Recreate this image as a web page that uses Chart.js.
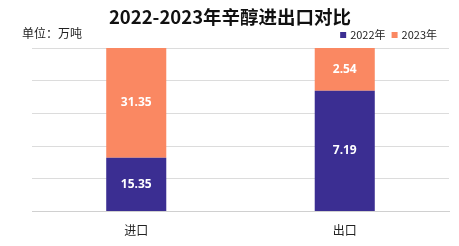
<!DOCTYPE html>
<html><head><meta charset="utf-8">
<script src="https://cdn.jsdelivr.net/npm/chart.js@4"></script>
<style>html,body{margin:0;padding:0;background:#fff}#wrap{width:459px;height:246px}</style>
</head><body><div id="wrap"><canvas id="c" width="459" height="246"></canvas></div>
<script>
const categories = ['进口', '出口'];
const seriesNames = ['2022年', '2023年'];
const values2022 = [15.35, 7.19];
const values2023 = [31.35, 2.54];
const colors = ['#3b2e92', '#fa8862'];
const titleText = '2022-2023年辛醇进出口对比';
const unitText = '单位：万吨';

const totals = categories.map((_, i) => values2022[i] + values2023[i]);
const pct = arr => arr.map((v, i) => v / totals[i] * 100);

const labelPlugin = {
  id: 'valueLabels',
  afterDatasetsDraw(chart) {
    const ctx = chart.ctx;
    ctx.save();
    ctx.font = 'bold 12px "Noto Sans", "DejaVu Sans", sans-serif';
    ctx.fillStyle = '#ffffff';
    ctx.textAlign = 'center';
    ctx.textBaseline = 'middle';
    chart.data.datasets.forEach((ds, di) => {
      const meta = chart.getDatasetMeta(di);
      meta.data.forEach((el, i) => {
        const y = (el.y + el.base) / 2;
        ctx.fillText(ds.rawValues[i].toFixed(2), el.x, y);
      });
    });
    ctx.restore();
  }
};

const headerPlugin = {
  id: 'header',
  afterDraw(chart) {
    const ctx = chart.ctx;
    ctx.save();
    ctx.textBaseline = 'middle';
    // title
    ctx.font = 'bold 18.5px "Noto Sans CJK SC", sans-serif';
    ctx.fillStyle = '#111';
    ctx.textAlign = 'center';
    ctx.fillText(titleText, 230, 17);
    // unit
    ctx.font = '12px "Noto Sans CJK SC", sans-serif';
    ctx.fillStyle = '#222';
    ctx.textAlign = 'left';
    ctx.fillText(unitText, 22, 33);
    // legend (right aligned)
    ctx.font = '11px "Noto Sans CJK SC", sans-serif';
    const box = 6, gap = 4, itemGap = 6;
    const items = chart.data.datasets.map(ds => ({ text: ds.label, color: ds.backgroundColor, w: ctx.measureText(ds.label).width }));
    let total = items.reduce((s, it) => s + box + gap + it.w, 0) + itemGap * (items.length - 1);
    let x = 437 - total;
    const y = 35;
    items.forEach(it => {
      ctx.fillStyle = it.color;
      ctx.fillRect(x, y - box / 2, box, box);
      x += box + gap;
      ctx.fillStyle = '#222';
      ctx.fillText(it.text, x, y);
      x += it.w + itemGap;
    });
    ctx.restore();
  }
};

new Chart(document.getElementById('c'), {
  type: 'bar',
  data: {
    labels: categories,
    datasets: [
      { label: seriesNames[0], data: pct(values2022), rawValues: values2022, backgroundColor: colors[0], borderWidth: 0 },
      { label: seriesNames[1], data: pct(values2023), rawValues: values2023, backgroundColor: colors[1], borderWidth: 0 }
    ]
  },
  options: {
    responsive: false,
    animation: false,
    layout: { padding: { left: 32, right: 10, top: 48, bottom: 4 } },
    datasets: { bar: { barPercentage: 1, categoryPercentage: 0.288 } },
    plugins: {
      title: { display: false },
      legend: { display: false },
      tooltip: { enabled: false }
    },
    scales: {
      x: {
        stacked: true,
        grid: { display: false },
        border: { display: true, color: '#d0d0d0' },
        ticks: { color: '#222', font: { family: '"Noto Sans CJK SC", sans-serif', size: 12 }, padding: 4 }
      },
      y: {
        stacked: true,
        min: 0, max: 100,
        ticks: { display: false, stepSize: 20 },
        grid: { color: '#dcdcdc', drawTicks: false },
        border: { display: false }
      }
    }
  },
  plugins: [labelPlugin, headerPlugin]
});
</script>
</body></html>
